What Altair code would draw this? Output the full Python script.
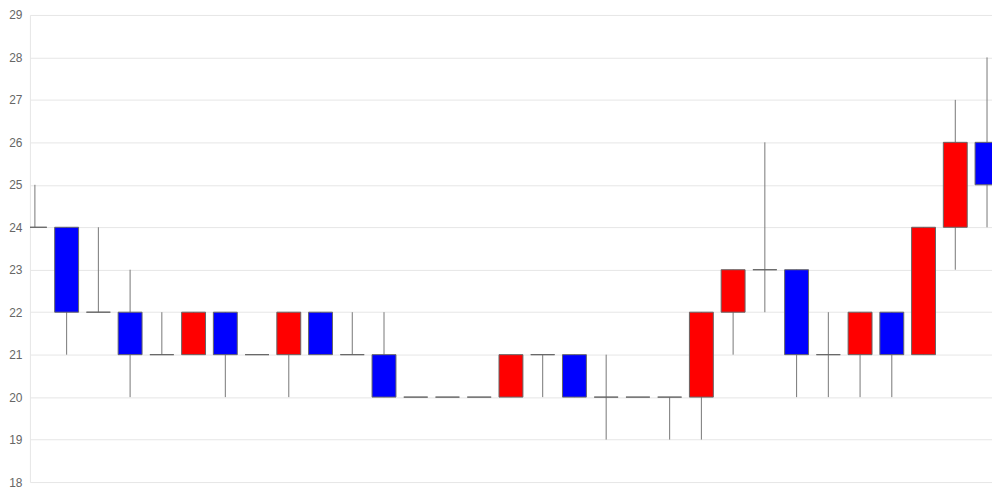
import altair as alt
import pandas as pd

idx = list(range(31))
opens  = [24, 24, 22, 22, 21, 21, 22, 21, 21, 22, 21, 21, 20, 20, 20, 20, 21, 21, 20, 20, 20, 20, 22, 23, 23, 21, 21, 22, 21, 24, 26]
highs  = [25, 24, 24, 23, 22, 22, 22, 21, 22, 22, 22, 22, 20, 20, 20, 21, 21, 21, 21, 20, 20, 22, 23, 26, 23, 22, 22, 22, 24, 27, 28]
lows   = [24, 21, 22, 20, 21, 21, 20, 21, 20, 21, 21, 20, 20, 20, 20, 20, 20, 20, 19, 20, 19, 19, 21, 22, 20, 20, 20, 20, 21, 23, 24]
closes = [24, 22, 22, 21, 21, 22, 21, 21, 22, 21, 21, 20, 20, 20, 20, 21, 21, 20, 20, 20, 20, 22, 23, 23, 21, 21, 22, 21, 24, 26, 25]
y_ticks = list(range(18, 30))

df = pd.DataFrame({"i": idx, "open": opens, "high": highs, "low": lows, "close": closes})
df["dir"] = ["up" if c > o else ("down" if c < o else "flat") for o, c in zip(opens, closes)]

x = alt.X("i:Q", scale=alt.Scale(domain=[0, 30], nice=False, zero=False), axis=None)
yscale = alt.Scale(domain=[18, 29], nice=False, zero=False)
yaxis = alt.Axis(values=y_ticks, grid=True, gridColor="#e6e6e6", domainColor="#e6e6e6",
                 ticks=False, labelColor="#666666", labelFontSize=12, labelPadding=8,
                 labelFont="Liberation Sans", title=None)

base = alt.Chart(df)

wicks = base.mark_rule(color="#777777", strokeWidth=1, clip=True).encode(
    x=x,
    y=alt.Y("low:Q", scale=yscale, axis=yaxis),
    y2="high:Q",
)

bodies = base.mark_bar(size=24, stroke="#666666", strokeWidth=1, clip=True).encode(
    x=x,
    y=alt.Y("open:Q", scale=yscale, axis=yaxis),
    y2="close:Q",
    fill=alt.Fill("dir:N", scale=alt.Scale(domain=["up", "down", "flat"],
                                           range=["#ff0000", "#0000ff", "#555555"]),
                  legend=None),
)

chart = (wicks + bodies).properties(
    width=966, height=469,
    autosize=alt.AutoSizeParams(type="none"),
    padding={"left": 22, "top": 6, "right": 0, "bottom": 6},
).configure_view(stroke=None)

chart.save("out.html", embed_options={"renderer": "svg", "actions": False})
